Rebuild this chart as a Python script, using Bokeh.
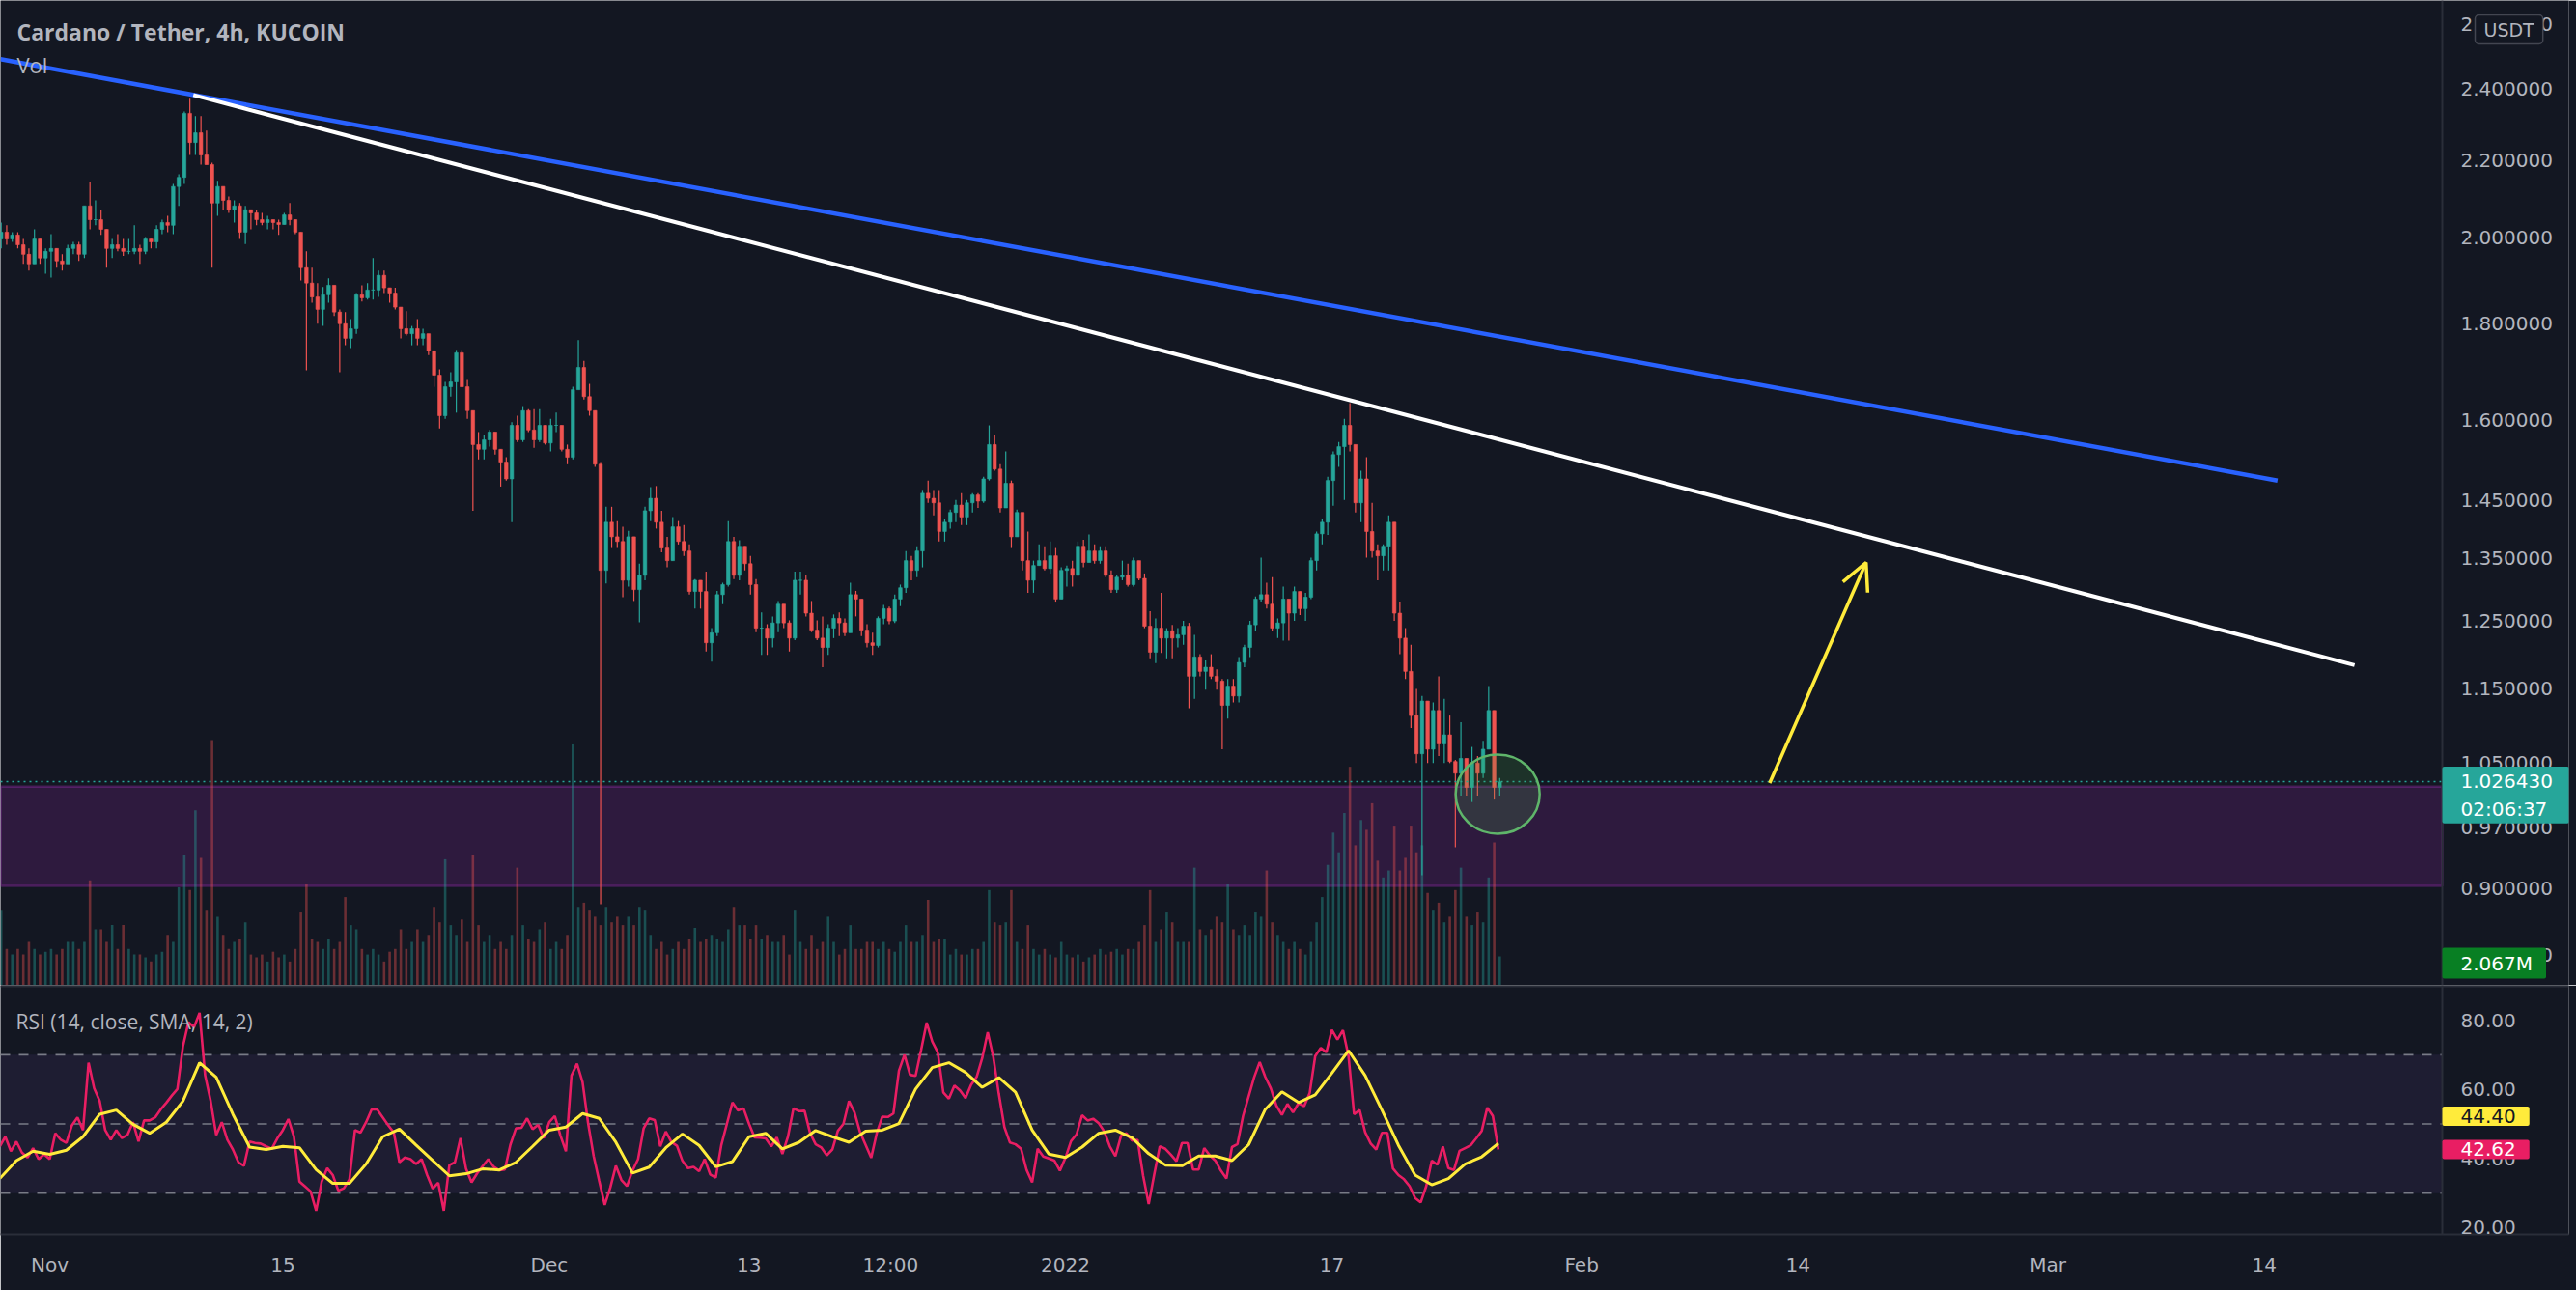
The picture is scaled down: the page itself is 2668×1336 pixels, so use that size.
import pandas as pd
from bokeh.plotting import figure
from bokeh.layouts import column
from bokeh.models import (Range1d, LinearScale, FixedTicker, PrintfTickFormatter,
                          BoxAnnotation, Span, Label, Arrow, OpenHead, ColumnDataSource)
from bokeh.embed import file_html
from bokeh.resources import INLINE

# ---------------- data (ADA/USDT, 8h aggregation of the 4h chart) ----------------
first_candle = "2021-10-29 00:00"
first_open = 1.997
close = [2.014, 1.997, 2.007, 1.983, 1.960, 1.937, 1.997, 1.951, 1.967, 1.974, 1.944, 1.937,
         1.974, 1.983, 1.960, 2.080, 2.045, 2.045, 2.021, 1.974, 1.983, 1.974, 1.967, 1.967,
         1.974, 1.967, 1.997, 1.990, 2.021, 2.038, 2.031, 2.130, 2.154, 2.330, 2.248, 2.275,
         2.214, 2.188, 2.087, 2.130, 2.094, 2.070, 2.080, 2.014, 2.070, 2.062, 2.045, 2.038,
         2.045, 2.038, 2.033, 2.057, 2.045, 2.014, 1.928, 1.892, 1.860, 1.832, 1.865, 1.887,
         1.826, 1.800, 1.768, 1.789, 1.865, 1.858, 1.876, 1.876, 1.910, 1.881, 1.869, 1.837,
         1.789, 1.778, 1.789, 1.768, 1.778, 1.741, 1.690, 1.608, 1.666, 1.676, 1.737, 1.666,
         1.618, 1.552, 1.543, 1.561, 1.576, 1.543, 1.519, 1.488, 1.589, 1.561, 1.618, 1.580,
         1.561, 1.589, 1.555, 1.589, 1.589, 1.543, 1.528, 1.660, 1.706, 1.646, 1.618, 1.515,
         1.330, 1.411, 1.386, 1.378, 1.314, 1.386, 1.299, 1.322, 1.431, 1.453, 1.411, 1.367,
         1.346, 1.403, 1.378, 1.362, 1.296, 1.314, 1.296, 1.217, 1.232, 1.291, 1.307, 1.378,
         1.322, 1.370, 1.341, 1.307, 1.239, 1.239, 1.224, 1.247, 1.276, 1.247, 1.224, 1.314,
         1.314, 1.262, 1.236, 1.224, 1.210, 1.239, 1.254, 1.247, 1.232, 1.291, 1.284, 1.236,
         1.217, 1.213, 1.254, 1.269, 1.250, 1.284, 1.302, 1.346, 1.330, 1.362, 1.462, 1.453,
         1.445, 1.395, 1.411, 1.428, 1.441, 1.420, 1.445, 1.459, 1.448, 1.488, 1.552, 1.506,
         1.436, 1.480, 1.386, 1.428, 1.346, 1.314, 1.338, 1.346, 1.333, 1.354, 1.284, 1.330,
         1.333, 1.322, 1.370, 1.343, 1.362, 1.346, 1.362, 1.322, 1.299, 1.319, 1.322, 1.307,
         1.346, 1.317, 1.242, 1.203, 1.239, 1.224, 1.235, 1.224, 1.229, 1.242, 1.168, 1.196,
         1.175, 1.181, 1.168, 1.161, 1.127, 1.154, 1.140, 1.188, 1.210, 1.244, 1.284, 1.291,
         1.276, 1.239, 1.247, 1.284, 1.262, 1.296, 1.269, 1.287, 1.346, 1.391, 1.411, 1.485,
         1.533, 1.548, 1.589, 1.552, 1.445, 1.488, 1.395, 1.362, 1.354, 1.370, 1.411, 1.262,
         1.224, 1.175, 1.113, 1.062, 1.133, 1.068, 1.120, 1.075, 1.087, 1.052, 1.037, 1.056,
         1.019, 1.050, 1.037, 1.068, 1.120, 1.019, 1.026]
high = [2.038, 2.031, 2.014, 2.014, 1.997, 1.974, 2.021, 1.990, 1.974, 2.009, 1.974, 1.960,
        1.983, 1.990, 1.990, 2.080, 2.142, 2.094, 2.070, 2.021, 1.997, 2.009, 1.997, 1.997,
        2.031, 1.983, 2.002, 1.997, 2.031, 2.045, 2.055, 2.137, 2.162, 2.335, 2.372, 2.322,
        2.322, 2.281, 2.193, 2.145, 2.130, 2.104, 2.094, 2.087, 2.080, 2.070, 2.070, 2.062,
        2.055, 2.045, 2.045, 2.062, 2.087, 2.033, 2.009, 1.967, 1.928, 1.892, 1.883, 1.903,
        1.887, 1.832, 1.826, 1.810, 1.869, 1.887, 1.892, 1.951, 1.921, 1.921, 1.881, 1.881,
        1.837, 1.828, 1.795, 1.810, 1.789, 1.778, 1.741, 1.702, 1.676, 1.696, 1.743, 1.743,
        1.680, 1.618, 1.576, 1.570, 1.580, 1.576, 1.543, 1.528, 1.595, 1.608, 1.627, 1.621,
        1.621, 1.621, 1.589, 1.602, 1.614, 1.589, 1.552, 1.666, 1.764, 1.720, 1.672, 1.618,
        1.519, 1.438, 1.438, 1.413, 1.403, 1.396, 1.386, 1.341, 1.438, 1.473, 1.475, 1.431,
        1.386, 1.420, 1.413, 1.406, 1.373, 1.316, 1.310, 1.328, 1.239, 1.297, 1.310, 1.413,
        1.386, 1.380, 1.370, 1.354, 1.316, 1.263, 1.245, 1.257, 1.281, 1.276, 1.251, 1.328,
        1.328, 1.322, 1.281, 1.251, 1.257, 1.245, 1.260, 1.263, 1.254, 1.310, 1.297, 1.276,
        1.245, 1.232, 1.257, 1.275, 1.272, 1.291, 1.307, 1.362, 1.354, 1.370, 1.468, 1.485,
        1.468, 1.468, 1.416, 1.433, 1.450, 1.462, 1.450, 1.462, 1.462, 1.492, 1.589, 1.570,
        1.515, 1.539, 1.485, 1.433, 1.428, 1.395, 1.346, 1.373, 1.370, 1.378, 1.367, 1.335,
        1.338, 1.346, 1.378, 1.381, 1.390, 1.373, 1.370, 1.370, 1.330, 1.322, 1.346, 1.341,
        1.351, 1.346, 1.325, 1.265, 1.254, 1.294, 1.239, 1.244, 1.239, 1.250, 1.247, 1.229,
        1.200, 1.191, 1.200, 1.178, 1.164, 1.164, 1.164, 1.196, 1.214, 1.250, 1.288, 1.351,
        1.310, 1.319, 1.254, 1.304, 1.284, 1.304, 1.296, 1.294, 1.351, 1.395, 1.416, 1.492,
        1.539, 1.557, 1.602, 1.633, 1.543, 1.503, 1.528, 1.445, 1.373, 1.373, 1.423, 1.395,
        1.280, 1.239, 1.214, 1.150, 1.140, 1.104, 1.131, 1.168, 1.136, 1.113, 1.054, 1.104,
        1.056, 1.071, 1.059, 1.079, 1.154, 1.117, 1.031]
low = [1.974, 1.983, 1.990, 1.974, 1.937, 1.921, 1.937, 1.937, 1.914, 1.905, 1.928, 1.921,
       1.937, 1.960, 1.944, 1.951, 2.021, 2.031, 2.007, 1.928, 1.951, 1.967, 1.956, 1.960,
       1.960, 1.937, 1.960, 1.974, 1.974, 2.009, 2.014, 2.009, 2.080, 2.137, 2.214, 2.214,
       2.188, 2.188, 1.928, 2.055, 2.070, 2.062, 2.038, 1.997, 1.985, 2.021, 2.031, 2.031,
       2.021, 2.021, 2.007, 2.038, 2.031, 2.009, 1.898, 1.700, 1.847, 1.800, 1.795, 1.847,
       1.817, 1.696, 1.753, 1.747, 1.778, 1.850, 1.854, 1.854, 1.860, 1.869, 1.847, 1.832,
       1.768, 1.774, 1.753, 1.753, 1.753, 1.732, 1.666, 1.583, 1.602, 1.646, 1.614, 1.666,
       1.602, 1.431, 1.524, 1.524, 1.548, 1.533, 1.474, 1.485, 1.411, 1.557, 1.557, 1.576,
       1.546, 1.557, 1.552, 1.539, 1.576, 1.539, 1.515, 1.524, 1.660, 1.640, 1.608, 1.510,
       0.883, 1.309, 1.367, 1.367, 1.287, 1.304, 1.281, 1.248, 1.314, 1.413, 1.400, 1.360,
       1.335, 1.346, 1.373, 1.354, 1.291, 1.269, 1.269, 1.204, 1.189, 1.227, 1.276, 1.304,
       1.316, 1.314, 1.330, 1.291, 1.233, 1.199, 1.199, 1.210, 1.233, 1.239, 1.204, 1.221,
       1.291, 1.257, 1.233, 1.221, 1.181, 1.199, 1.224, 1.227, 1.227, 1.233, 1.257, 1.227,
       1.210, 1.199, 1.210, 1.245, 1.245, 1.247, 1.273, 1.294, 1.314, 1.319, 1.335, 1.445,
       1.423, 1.378, 1.378, 1.400, 1.411, 1.406, 1.406, 1.428, 1.436, 1.445, 1.485, 1.503,
       1.428, 1.436, 1.367, 1.386, 1.330, 1.294, 1.294, 1.338, 1.330, 1.325, 1.280, 1.284,
       1.304, 1.304, 1.330, 1.335, 1.346, 1.341, 1.341, 1.319, 1.294, 1.294, 1.314, 1.304,
       1.304, 1.314, 1.239, 1.194, 1.187, 1.202, 1.194, 1.194, 1.210, 1.214, 1.123, 1.136,
       1.168, 1.149, 1.164, 1.149, 1.068, 1.109, 1.131, 1.131, 1.181, 1.196, 1.235, 1.280,
       1.269, 1.235, 1.224, 1.220, 1.220, 1.250, 1.259, 1.250, 1.284, 1.330, 1.373, 1.389,
       1.440, 1.510, 1.450, 1.539, 1.428, 1.411, 1.351, 1.351, 1.314, 1.330, 1.330, 1.250,
       1.200, 1.164, 1.096, 1.050, 0.915, 1.050, 1.050, 1.059, 1.050, 1.050, 0.947, 1.009,
       1.009, 1.001, 1.009, 1.031, 1.068, 1.004, 1.009]
volume_m = [5.4, 2.6, 2.2, 2.6, 2.2, 3.1, 2.6, 2.2, 2.4, 2.6, 2.2, 2.6, 3.1, 3.1, 2.6, 3.1,
            7.5, 4.0, 4.0, 3.1, 4.3, 2.6, 4.3, 2.6, 2.2, 2.2, 2.0, 1.7, 2.2, 2.4, 3.6, 3.1,
            7.0, 9.3, 6.8, 12.5, 9.1, 5.4, 17.5, 4.9, 3.6, 2.6, 3.1, 3.3, 4.5, 2.2, 2.0, 2.2,
            1.7, 2.4, 2.0, 2.2, 1.7, 2.6, 5.2, 7.2, 3.3, 3.1, 2.6, 3.3, 2.6, 3.1, 6.3, 4.3,
            4.0, 2.6, 2.2, 2.6, 2.2, 1.7, 2.4, 2.6, 4.0, 2.6, 3.1, 4.0, 3.1, 3.6, 5.6, 4.5,
            9.0, 4.3, 3.6, 4.7, 3.1, 9.3, 4.3, 3.1, 3.6, 2.6, 3.1, 2.6, 3.6, 8.4, 4.3, 3.3,
            3.1, 4.0, 4.5, 2.6, 3.1, 2.6, 3.6, 17.2, 5.6, 5.9, 5.4, 4.9, 4.3, 5.6, 4.5, 4.9,
            4.3, 4.9, 4.3, 5.6, 5.4, 3.6, 2.6, 3.1, 2.2, 2.6, 3.1, 2.6, 3.3, 4.1, 3.1, 3.3,
            3.6, 3.3, 3.1, 4.0, 5.6, 4.3, 4.3, 3.3, 4.3, 3.3, 3.6, 3.1, 3.1, 3.6, 2.2, 5.4,
            3.1, 2.6, 3.6, 2.6, 3.1, 4.9, 3.1, 2.2, 2.6, 4.3, 2.6, 2.6, 3.1, 3.1, 2.6, 3.1,
            2.6, 2.4, 3.1, 4.3, 3.1, 3.1, 3.6, 6.1, 3.1, 3.3, 3.3, 2.2, 2.6, 2.2, 2.2, 2.6,
            2.6, 3.1, 6.8, 4.5, 4.3, 4.5, 6.8, 3.1, 2.6, 4.3, 2.6, 2.2, 2.6, 2.2, 2.0, 3.1,
            2.2, 2.0, 2.2, 1.7, 2.0, 2.2, 2.6, 2.2, 2.4, 2.6, 2.2, 2.6, 2.6, 3.1, 4.3, 6.8,
            3.1, 4.0, 5.2, 4.5, 3.1, 3.1, 3.1, 8.4, 4.0, 3.6, 4.0, 4.9, 4.5, 7.2, 4.0, 3.6,
            4.3, 3.6, 5.2, 4.9, 8.2, 4.5, 3.6, 3.1, 2.6, 3.1, 2.6, 2.2, 3.1, 4.5, 6.3, 8.6,
            10.9, 9.5, 12.3, 15.6, 10.0, 11.8, 11.1, 13.0, 8.9, 7.7, 8.2, 11.4, 8.2, 9.1, 11.4,
            9.5, 10.0, 6.6, 5.4, 5.9, 4.5, 4.9, 6.8, 8.4, 4.9, 4.3, 5.2, 4.5, 7.7, 10.2, 2.067]
rsi_values = [43.5, 46.3, 42.1, 44.9, 41.7, 40.3, 43.0, 39.8, 41.2, 39.8,
              47.3, 45.4, 44.5, 49.6, 51.9, 48.2, 67.7, 60.3, 56.6, 48.2,
              45.4, 48.2, 45.9, 46.8, 50.5, 44.9, 51.0, 51.0, 51.9, 54.2,
              56.1, 58.2, 60.1, 72.4, 79.4, 78.0, 82.1, 64.0, 56.6, 46.8,
              50.5, 45.4, 42.6, 38.9, 37.9, 44.9, 44.5, 44.3, 43.5, 42.8,
              45.8, 48.2, 51.4, 46.3, 33.3, 31.9, 30.5, 24.9, 33.3, 37.2,
              35.2, 30.7, 31.4, 34.0, 48.2, 47.5, 50.5, 54.2, 54.2, 51.9,
              49.6, 47.5, 38.9, 40.3, 39.8, 38.4, 39.8, 35.2, 31.3, 33.0,
              24.9, 38.1, 38.9, 45.9, 37.1, 33.1, 35.7, 37.8, 39.8, 37.6,
              36.6, 36.8, 44.0, 48.7, 48.9, 51.6, 48.5, 49.7, 45.9, 50.5,
              52.3, 46.7, 42.1, 64.0, 67.4, 62.1, 50.2, 40.7, 33.5, 26.6,
              31.6, 37.9, 33.8, 32.0, 36.5, 39.8, 48.7, 51.6, 51.1, 43.5,
              47.8, 44.8, 43.7, 39.3, 37.2, 37.6, 36.3, 39.8, 35.4, 34.5,
              43.9, 50.0, 56.2, 53.9, 54.5, 50.0, 46.1, 46.0, 45.8, 43.5,
              46.1, 41.3, 46.3, 54.5, 53.7, 53.8, 47.3, 44.1, 43.2, 40.9,
              42.6, 48.0, 50.0, 56.6, 53.3, 47.6, 43.9, 40.2, 47.3, 52.1,
              52.0, 53.0, 65.4, 70.0, 64.2, 63.9, 71.4, 79.3, 73.8, 70.7,
              59.1, 57.3, 61.1, 59.7, 57.5, 61.3, 63.6, 69.0, 76.5, 69.4,
              58.7, 49.1, 44.6, 44.1, 42.8, 36.7, 33.1, 42.8, 40.6, 40.0,
              39.4, 36.5, 40.2, 45.0, 47.0, 52.5, 51.0, 51.5, 50.2, 47.8,
              43.5, 40.7, 46.5, 47.3, 45.2, 45.4, 35.0, 26.8, 35.4, 43.5,
              42.8, 41.1, 39.2, 44.5, 44.5, 36.8, 36.8, 43.0, 40.9, 39.4,
              36.5, 34.2, 43.3, 44.2, 52.3, 57.9, 63.5, 67.9, 63.6, 60.3,
              55.3, 52.6, 55.8, 53.3, 56.0, 55.1, 58.9, 69.6, 72.0, 70.7,
              77.2, 74.4, 77.1, 69.6, 52.8, 54.0, 47.6, 44.3, 42.6, 47.4,
              47.4, 37.1, 35.2, 34.0, 32.0, 28.6, 27.3, 32.0, 39.4, 38.2,
              43.5, 37.2, 36.7, 42.2, 43.0, 43.8, 45.8, 48.0, 54.7, 52.3,
              42.62]
rsi_sma_daily = [34.2, 39.4, 42.1, 41.2, 42.4, 46.3, 52.8, 54.0, 49.9, 47.3,
                 50.5, 56.6, 67.7, 63.5, 52.8, 43.3, 42.6, 43.5, 43.1, 36.8,
                 32.8, 32.8, 38.4, 46.3, 48.5, 43.9, 39.4, 35.0, 35.6, 37.0,
                 36.7, 38.9, 43.5, 48.2, 49.1, 53.0, 51.6, 44.7, 35.8, 37.5,
                 43.1, 47.1, 43.8, 37.6, 39.1, 46.3, 47.3, 42.8, 44.7, 48.1,
                 46.3, 44.7, 47.9, 48.2, 50.1, 60.1, 66.3, 67.7, 64.9, 60.6,
                 63.4, 59.2, 48.2, 41.3, 40.3, 43.3, 47.3, 48.2, 46.0, 41.4,
                 38.1, 37.9, 40.7, 40.7, 39.4, 44.0, 54.2, 59.3, 56.2, 58.4,
                 64.7, 71.2, 64.0, 54.1, 43.8, 35.2, 32.4, 34.2, 38.4, 40.5, 44.40]

price_ticks = [0.83, 0.9, 0.97, 1.05, 1.15, 1.25, 1.35, 1.45, 1.6, 1.8, 2.0, 2.2, 2.4, 2.6]
rsi_ticks = [20, 40, 60, 80]
rsi_levels = [30, 50, 70]
x_tick_dates = ["2021-11-01", "2021-11-15", "2021-12-01", "2021-12-13", "2021-12-21 12:00",
                "2022-01-01", "2022-01-17", "2022-02-01", "2022-02-14", "2022-03-01", "2022-03-14"]
x_tick_labels = ["Nov", "15", "Dec", "13", "12:00", "2022", "17", "Feb", "14", "Mar", "14"]
zone_low, zone_high = 0.903, 1.020
last_price = 1.026430
last_rsi, last_sma = 42.62, 44.40
last_volume_text = "2.067M"
countdown = "02:06:37"
blue_line = (["2021-10-29 01:00", "2022-03-14 19:00"], [2.490, 1.485])
white_line = (["2021-11-09 15:00", "2022-03-19 10:00"], [2.383, 1.184])
arrow_pts = (["2022-02-12 07:00", "2022-02-18 02:00"], [1.0246, 1.343])
circle_center = ("2022-01-26 23:00", 1.0107)

# ---------------- layout / styling ----------------
BG = "#131722"
TXT = "#b2b5be"
LINE = "#2a2e39"
UP = "#26a69a"
DOWN = "#ef5350"
MAG = "#b12fc7"
AXFONT = "DejaVu Sans"
W, H_MAIN, H_RSI = 2668, 1020, 316
PX_PER_DAY = 17.246      # horizontal zoom of the time scale
FRAME_W = 2660           # plotting frame (price scale drawn inside its right part)
SCALE_X = 2529           # where the price-scale column starts
STANDOFF = SCALE_X + 19 - FRAME_W


def ms(ts):
    return pd.Timestamp(ts).value / 1e6


n = min(len(close), len(high), len(low), len(volume_m))
times = pd.date_range(first_candle, periods=n, freq="8h")
centers = times + pd.Timedelta(hours=2)
closes = close[:n]
opens = [first_open] + closes[:-1]
highs = [max(h, o, c) for h, o, c in zip(high[:n], opens, closes)]
lows = [min(l, o, c) for l, o, c in zip(low[:n], opens, closes)]
colors = [UP if c >= o else DOWN for o, c in zip(opens, closes)]
src = ColumnDataSource(dict(
    x=centers, h=highs, l=lows,
    top=[max(o, c) for o, c in zip(opens, closes)],
    bot=[min(o, c) for o, c in zip(opens, closes)],
    color=colors, vol=volume_m[:n]))

bar_ms = 8 * 3600 * 1000
nov1 = pd.Timestamp("2021-11-01")
x_start = nov1 + pd.Timedelta(days=-2.957)
x_end = x_start + pd.Timedelta(days=FRAME_W / PX_PER_DAY)
scale_edge = x_start + pd.Timedelta(days=SCALE_X / PX_PER_DAY)
xs_ms, xe_ms, edge_ms = ms(x_start), ms(x_end), ms(scale_edge)
xr = Range1d(x_start, x_end)
main_lo, main_hi = 0.7994, 2.676
rsi_lo, rsi_hi = 18.04, 90.05


def style_y(ax, ticks, fmt):
    ax.ticker = FixedTicker(ticks=ticks)
    ax.formatter = PrintfTickFormatter(format=fmt)
    ax.axis_line_color = None
    ax.major_tick_line_color = None
    ax.minor_tick_line_color = None
    ax.major_tick_out = 0
    ax.major_tick_in = 0
    ax.major_label_standoff = STANDOFF
    ax.major_label_text_color = TXT
    ax.major_label_text_font = AXFONT
    ax.major_label_text_font_size = "20px"


def badge(fig, y, text, bg, fg, y_offset=0, y_range_name="default", pad_r=14, pad_v=3):
    fig.add_layout(Label(x=edge_ms, y=y, y_range_name=y_range_name, x_offset=0,
                         y_offset=y_offset, text=text, text_font=AXFONT, text_font_size="20px",
                         text_color=fg, text_baseline="middle", text_align="left",
                         background_fill_color=bg, border_radius=2,
                         padding=dict(left=19, right=pad_r, top=pad_v, bottom=pad_v)))


# ---------------- main price panel ----------------
p = figure(width=W, height=H_MAIN, x_range=xr, y_range=Range1d(main_lo, main_hi),
           x_axis_type="datetime", y_axis_type="log", x_axis_location=None,
           y_axis_location="right", toolbar_location=None, output_backend="svg",
           background_fill_color=BG, border_fill_color=BG, outline_line_color=None,
           min_border_left=0, min_border_right=W - FRAME_W, min_border_top=0,
           min_border_bottom=0)
p.grid.visible = False
p.extra_y_ranges = {"vol": Range1d(0, 70.3)}
p.extra_y_scales = {"vol": LinearScale()}
style_y(p.yaxis[0], price_ticks, "%.6f")

p.add_layout(BoxAnnotation(right=edge_ms, bottom=zone_low, top=zone_high, fill_color="#9c27b0",
                           fill_alpha=0.2, line_color=MAG, line_width=2.5, level="underlay"))

p.vbar(x="x", width=bar_ms * 0.45, top="vol", bottom=0, y_range_name="vol",
       fill_color="color", fill_alpha=0.4, line_color=None, source=src)
p.segment(x0="x", y0="l", x1="x", y1="h", line_color="color", line_width=1.2, source=src)
p.vbar(x="x", width=bar_ms * 0.62, top="top", bottom="bot", fill_color="color",
       line_color="color", line_width=0.6, source=src)

p.line(x=[xs_ms, edge_ms], y=[last_price, last_price], line_color=UP, line_width=1.6,
       line_dash="2 4")
p.line(x=[ms(d) for d in blue_line[0]], y=blue_line[1], line_color="#2962ff", line_width=4.5)
p.line(x=[ms(d) for d in white_line[0]], y=white_line[1], line_color="#ffffff", line_width=4)
p.add_layout(Arrow(end=OpenHead(line_color="#ffeb3b", line_width=3.5, size=28),
                   x_start=ms(arrow_pts[0][0]), y_start=arrow_pts[1][0],
                   x_end=ms(arrow_pts[0][1]), y_end=arrow_pts[1][1],
                   line_color="#ffeb3b", line_width=3.5))
p.ellipse(x=[ms(circle_center[0])], y=[circle_center[1]], width=87, height=82,
          width_units="screen", height_units="screen", fill_color="#4caf50",
          fill_alpha=0.18, line_color="#5fb56a", line_width=2.5)
p.add_layout(Span(location=edge_ms, dimension="height", line_color=LINE, line_width=2))

p.add_layout(Label(x=xs_ms, y=main_hi, x_offset=17, y_offset=-32,
                   text="Cardano / Tether, 4h, KUCOIN", text_font="Open Sans",
                   text_font_style="bold", text_font_size="23px", text_color=TXT,
                   text_baseline="middle", text_align="left"))
p.add_layout(Label(x=xs_ms, y=main_hi, x_offset=17, y_offset=-66, text="Vol",
                   text_font="Open Sans", text_font_size="22px", text_color=TXT,
                   text_baseline="middle", text_align="left"))

badge(p, last_price, f"{last_price:.6f}\n{countdown}", UP, "#ffffff", y_offset=-14, pad_r=17)
badge(p, volume_m[n - 1], last_volume_text, "#087f23", "#ffffff", y_offset=-7,
      y_range_name="vol", pad_v=4)
p.add_layout(Label(x=edge_ms, y=main_hi, x_offset=34, y_offset=-30, text="USDT",
                   text_font=AXFONT, text_font_size="19px", text_color=TXT,
                   text_baseline="middle", text_align="left", background_fill_color=BG,
                   border_line_color="#434651", border_line_width=1.5, border_radius=4,
                   padding=dict(left=9, right=9, top=4, bottom=4)))

# ---------------- RSI panel ----------------
r = figure(width=W, height=H_RSI, x_range=xr, y_range=Range1d(rsi_lo, rsi_hi),
           x_axis_type="datetime", y_axis_location="right", toolbar_location=None,
           output_backend="svg", background_fill_color=BG, border_fill_color=BG,
           outline_line_color=None, min_border_left=0, min_border_right=W - FRAME_W,
           min_border_top=0, min_border_bottom=58)
r.grid.visible = False
style_y(r.yaxis[0], rsi_ticks, "%.2f")
xa = r.xaxis[0]
tick_ms = [ms(d) for d in x_tick_dates]
xa.ticker = FixedTicker(ticks=tick_ms)
xa.major_label_overrides = {t: lab for t, lab in zip(tick_ms, x_tick_labels)}
xa.axis_line_color = LINE
xa.axis_line_width = 2
xa.major_tick_line_color = None
xa.minor_tick_line_color = None
xa.major_tick_out = 0
xa.major_tick_in = 0
xa.major_label_standoff = 19
xa.major_label_text_color = TXT
xa.major_label_text_font = AXFONT
xa.major_label_text_font_size = "20px"

r.add_layout(BoxAnnotation(right=edge_ms, bottom=rsi_levels[0], top=rsi_levels[2],
                           fill_color="#7e57c2", fill_alpha=0.1, line_color=None,
                           level="underlay"))
for lvl in rsi_levels:
    r.line(x=[xs_ms, edge_ms], y=[lvl, lvl], line_color="#787b86", line_width=1.6,
           line_dash="10 9")

r.line(x=times[:len(rsi_values)], y=rsi_values, line_color="#e91e63", line_width=2.6)
sma_t = pd.date_range(first_candle, periods=len(rsi_sma_daily), freq="D")
r.line(x=sma_t, y=rsi_sma_daily, line_color="#ffeb3b", line_width=3)

r.add_layout(Span(location=rsi_hi, dimension="width", line_color=LINE, line_width=4))
r.add_layout(Span(location=edge_ms, dimension="height", line_color=LINE, line_width=2))
r.add_layout(Label(x=xs_ms, y=rsi_hi, x_offset=16, y_offset=-37,
                   text="RSI (14, close, SMA, 14, 2)", text_font="Open Sans",
                   text_font_size="21px", text_color=TXT, text_baseline="middle",
                   text_align="left"))
badge(r, last_sma, f"{last_sma:.2f}", "#ffeb3b", "#131722", y_offset=28)
badge(r, last_rsi, f"{last_rsi:.2f}", "#e91e63", "#ffffff")

layout = column(p, r, spacing=0)
html = file_html(layout, INLINE, title="ADA/USDT")
with open("out.html", "w") as f:
    f.write(html)
